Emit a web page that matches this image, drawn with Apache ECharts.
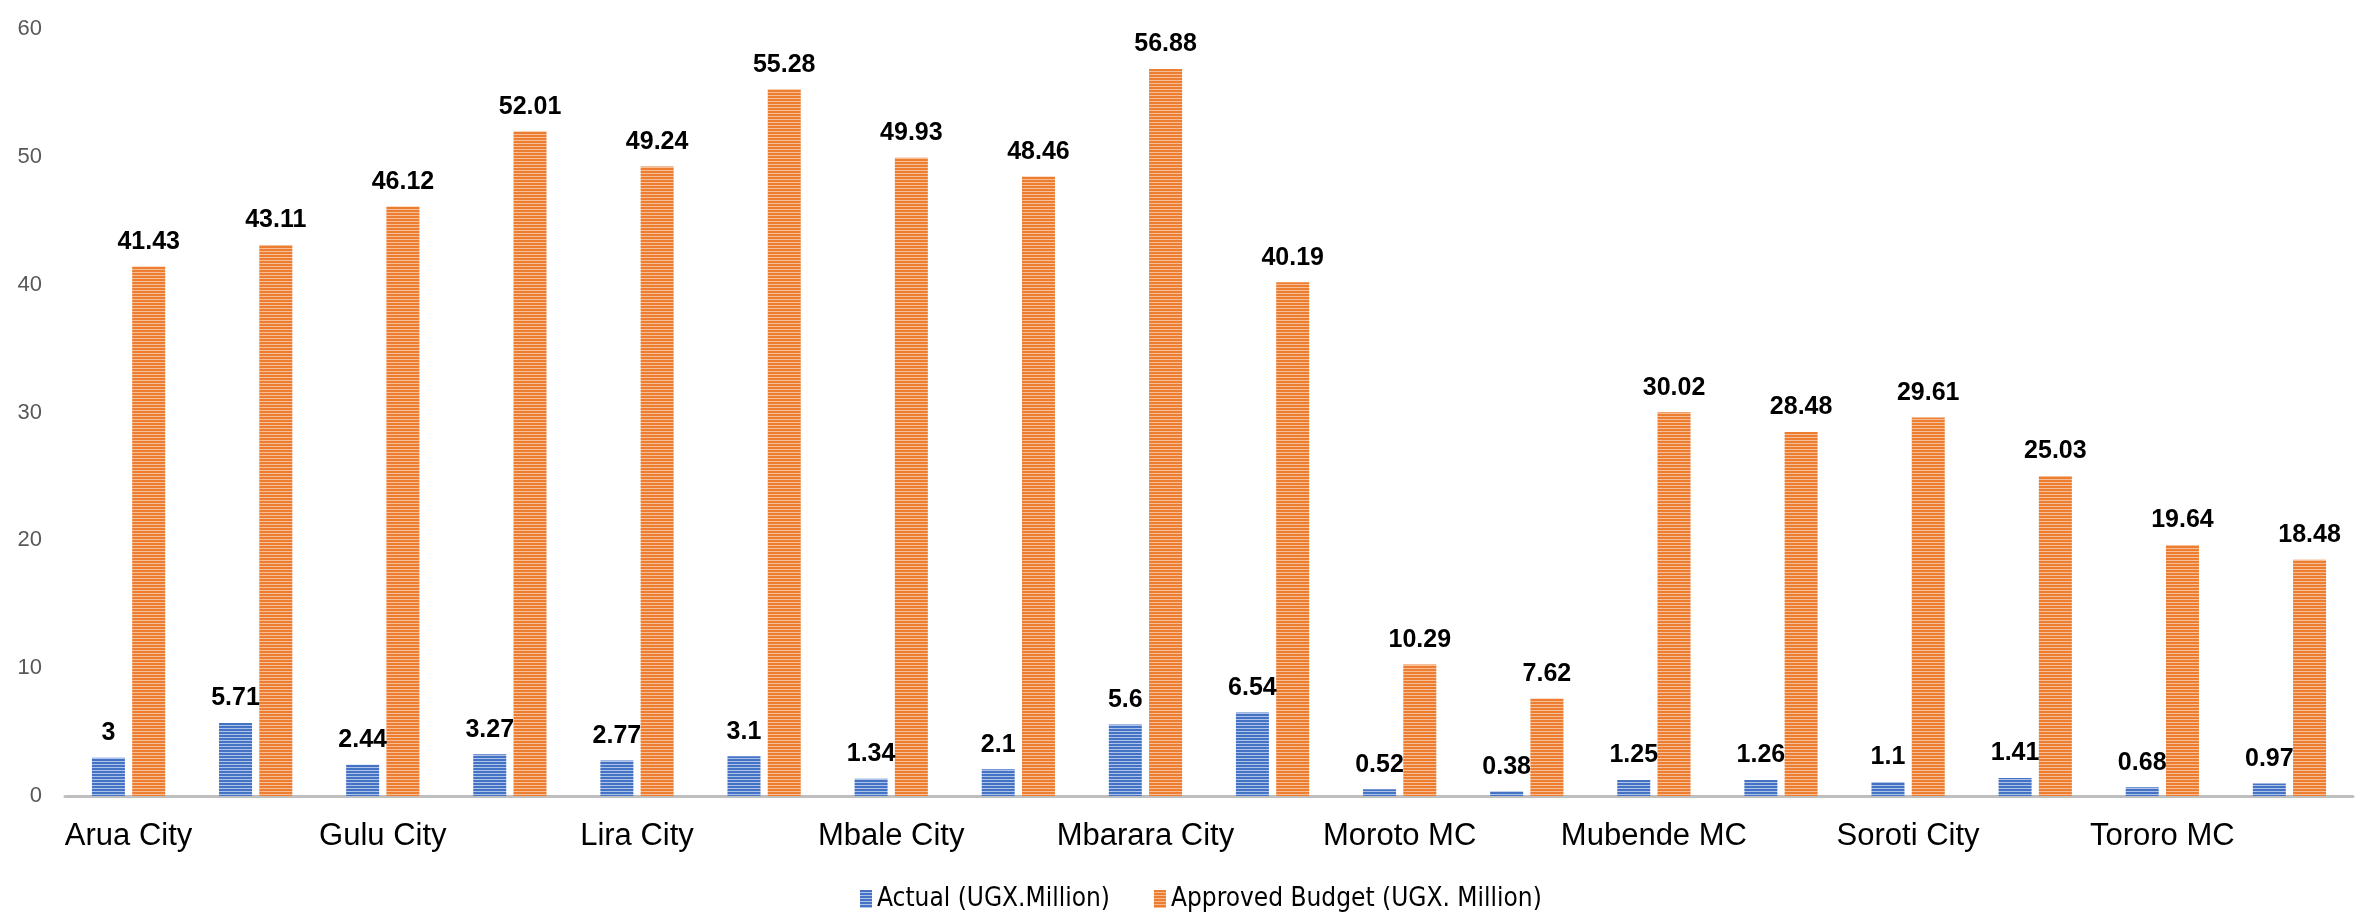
<!DOCTYPE html>
<html>
<head>
<meta charset="utf-8">
<script src="https://cdn.jsdelivr.net/npm/echarts@6/dist/echarts.min.js"></script>
<style>
html,body{margin:0;padding:0;background:#fff;}
#chart{width:2374px;height:915px;}
</style>
</head>
<body>
<div id="chart"></div>
<script>
const categories = ["Arua City","Arua City","Gulu City","Gulu City","Lira City","Lira City","Mbale City","Mbale City","Mbarara City","Mbarara City","Moroto MC","Moroto MC","Mubende MC","Mubende MC","Soroti City","Soroti City","Tororo MC","Tororo MC"];
const actual = [3,5.71,2.44,3.27,2.77,3.1,1.34,2.1,5.6,6.54,0.52,0.38,1.25,1.26,1.1,1.41,0.68,0.97];
const budget = [41.43,43.11,46.12,52.01,49.24,55.28,49.93,48.46,56.88,40.19,10.29,7.62,30.02,28.48,29.61,25.03,19.64,18.48];
const seriesNames = ["Actual (UGX.Million)","Approved Budget (UGX. Million)"];
const yTicks = {min:0,max:60,interval:10};

function stripe(dark, light){
  const c = document.createElement('canvas');
  c.width = 4; c.height = 3;
  const ctx = c.getContext('2d');
  ctx.fillStyle = light; ctx.fillRect(0,0,4,3);
  ctx.fillStyle = dark; ctx.fillRect(0,0,4,2);
  return {image:c, repeat:'repeat'};
}
const bluePat = stripe('#4472C4','#AFC3E8');
const orangePat = stripe('#ED7D31','#F6BE96');

const chart = echarts.init(document.getElementById('chart'));
const labelStyle = {show:true, position:'top', distance:12, fontSize:25, fontWeight:'bold', color:'#000', fontFamily:'Liberation Sans, Arial, sans-serif'};
chart.setOption({
  animation:false,
  backgroundColor:'#fff',
  grid:{left:65,right:21,top:29,bottom:119,containLabel:false},
  legend:{
    left:855, top:881,
    itemWidth:12, itemHeight:18, itemGap:44,
    icon:'rect',
    textStyle:{fontSize:26, color:'#000', fontFamily:'Liberation Sans Narrow, DejaVu Sans Condensed, sans-serif'},
    data:seriesNames
  },
  xAxis:{
    type:'category', data:categories,
    axisLine:{show:true, lineStyle:{color:'#BFBFBF', width:3}},
    axisTick:{show:false},
    axisLabel:{interval:1, fontSize:31, color:'#000', margin:25, fontFamily:'Liberation Sans, Arial, sans-serif'}
  },
  yAxis:{
    type:'value', min:yTicks.min, max:yTicks.max, interval:yTicks.interval,
    axisLine:{show:false}, axisTick:{show:false}, splitLine:{show:false},
    axisLabel:{fontSize:22, color:'#595959', margin:23, fontFamily:'Liberation Sans, Arial, sans-serif'}
  },
  series:[
    {name:seriesNames[0], type:'bar', data:actual, barWidth:33, barGap:'22%', itemStyle:{color:bluePat}, label:labelStyle},
    {name:seriesNames[1], type:'bar', data:budget, barWidth:33, itemStyle:{color:orangePat}, label:labelStyle}
  ]
});
</script>
</body>
</html>
